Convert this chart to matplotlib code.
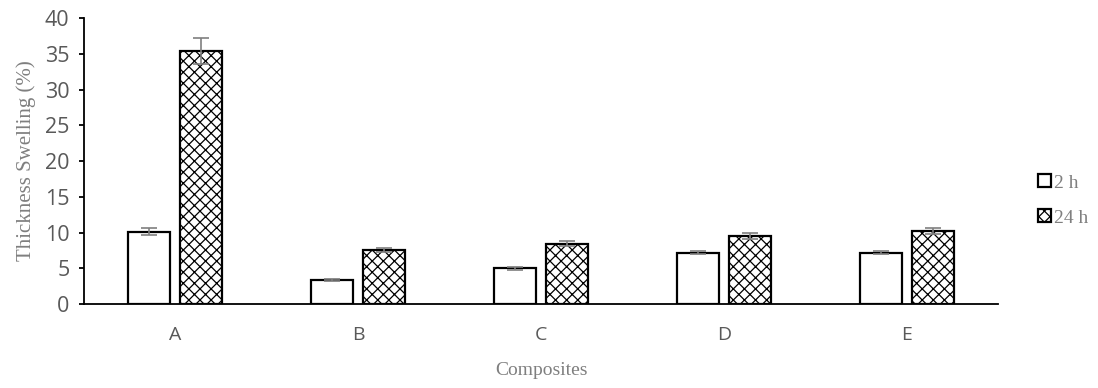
import matplotlib.pyplot as plt
import numpy as np

plt.rcParams['hatch.linewidth'] = 0.9

# Data
categories = ['A', 'B', 'C', 'D', 'E']
swelling_2h = [10.1, 3.3, 5.0, 7.2, 7.2]
swelling_24h = [35.4, 7.6, 8.4, 9.5, 10.2]
err_2h = [0.5, 0.15, 0.2, 0.25, 0.25]
err_24h = [1.8, 0.3, 0.35, 0.4, 0.45]

grey = '#7f7f7f'
x = np.arange(len(categories))
width = 0.23

fig = plt.figure(figsize=(10.98, 3.88), dpi=100)
ax = fig.add_axes([0.0765, 0.2165, 0.8325, 0.737])

ax.bar(x - 0.142, swelling_2h, width=width, color='white', edgecolor='black',
       linewidth=1.6, label='2 h', zorder=2)
ax.bar(x + 0.142, swelling_24h, width=width, color='white', edgecolor='black',
       linewidth=1.6, hatch='xxx', label='24 h', zorder=2)
ax.errorbar(x - 0.142, swelling_2h, yerr=err_2h, fmt='none', ecolor=grey,
            elinewidth=1.2, capsize=6, capthick=1.2, zorder=3)
ax.errorbar(x + 0.142, swelling_24h, yerr=err_24h, fmt='none', ecolor=grey,
            elinewidth=1.2, capsize=6, capthick=1.2, zorder=3)

ax.set_xlim(-0.5, len(categories) - 0.5)
ax.set_ylim(0, 40)
ax.set_yticks(np.arange(0, 41, 5))
ax.set_xticks(x)
ax.set_xticklabels(categories)

for s in ['top', 'right']:
    ax.spines[s].set_visible(False)
ax.spines['left'].set_linewidth(1.3)
ax.spines['bottom'].set_linewidth(1.3)
ax.tick_params(axis='y', length=3.5, width=1.3, labelsize=15.5,
               labelcolor='#595959', pad=7)
ax.tick_params(axis='x', length=0, labelsize=14, labelcolor='#595959', pad=16)
for lab in ax.get_xticklabels() + ax.get_yticklabels():
    lab.set_family('Open Sans')

ax.set_ylabel('Thickness Swelling (%)', family='Liberation Serif', fontsize=15,
              color=grey, labelpad=6)
ax.set_xlabel('Composites', family='Liberation Serif', fontsize=14,
              color=grey, labelpad=13)

leg = ax.legend(loc='center left', bbox_to_anchor=(1.029, 0.362), frameon=False,
                prop={'family': 'Liberation Serif', 'size': 14},
                handlelength=0.65, handleheight=0.65, handletextpad=0.15,
                labelspacing=0.9, borderaxespad=0.3)
for t in leg.get_texts():
    t.set_color(grey)

fig.savefig('out.png', dpi=100)
